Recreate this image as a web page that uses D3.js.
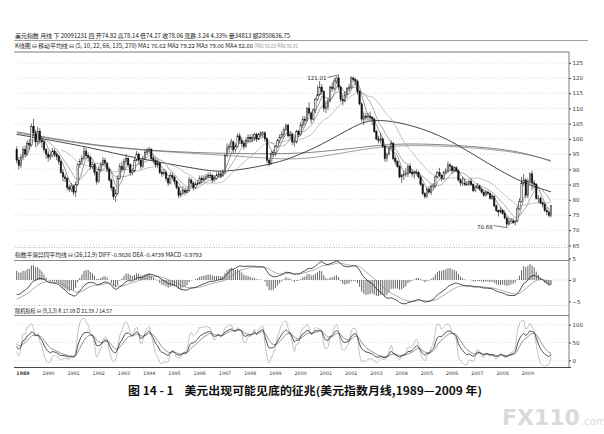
<!DOCTYPE html>
<html>
<head>
<meta charset="utf-8">
<style>
  body{
    margin: 0;
    background: #fff;
  }
  svg{
    display: block;
    font-family: 'Noto Sans CJK SC', 'DejaVu Sans', sans-serif;
  }
</style>
</head>
<body>
<svg id='svgVis'></svg>

<script src="https://cdnjs.cloudflare.com/ajax/libs/d3/7.8.5/d3.min.js"></script>
<script>

var width = 604, height = 434;

// monthly bars, index 0 = Oct 1988 ... last = Dec 2009
var firstOpen = 96.5;

var closes = [
  93.0, 91.2, 94.0,
  96.5, 95.0, 98.5, 98.0, 104.0, 102.0, 99.0, 102.5, 99.5, 99.0, 96.5, 95.0,
  94.0, 94.5, 96.0, 95.0, 94.2, 92.5, 89.0, 87.5, 87.0, 84.0, 83.5, 84.5,
  82.5, 85.0, 91.5, 92.5, 93.5, 96.0, 94.5, 94.0, 91.0, 91.5, 89.0, 86.0,
  90.0, 91.5, 93.0, 92.0, 90.0, 86.5, 84.0, 81.0, 82.0, 87.0, 91.0, 90.0,
  92.5, 93.5, 91.5, 89.0, 89.5, 93.0, 95.0, 93.0, 91.0, 93.5, 95.5, 96.0,
  96.5, 93.5, 93.0, 91.5, 92.0, 89.0, 88.5, 89.0, 87.0, 85.5, 88.0, 87.5,
  86.0, 84.0, 81.5, 82.0, 83.0, 82.5, 83.0, 86.5, 85.5, 84.0, 85.0, 85.5,
  87.0, 86.5, 87.0, 87.5, 88.0, 88.0, 86.5, 87.0, 88.0, 88.5, 88.0, 89.0,
  94.5, 97.0, 97.5, 99.0, 96.5, 97.5, 101.0, 99.5, 98.5, 97.5, 99.5, 100.5,
  100.0, 100.5, 101.5, 100.0, 101.5, 102.0, 102.0, 100.0, 93.0, 92.0, 95.0, 95.5,
  97.5, 99.5, 100.5, 101.5, 103.0, 104.5, 101.0, 101.5, 99.0, 99.0, 102.5, 101.5,
  104.5, 106.5, 106.0, 110.0, 108.5, 106.5, 109.5, 113.0, 114.5, 117.0, 115.5, 110.0,
  110.5, 112.5, 117.0, 116.5, 119.0, 120.0, 117.0, 113.0, 112.5, 114.5, 116.5, 117.0,
  120.0, 119.5, 119.0, 115.5, 111.5, 106.5, 107.5, 107.0, 107.5, 107.0, 106.5, 102.5,
  100.0, 99.5, 100.0, 97.5, 93.5, 95.0, 97.0, 98.5, 93.5, 92.5, 91.0, 87.5,
  88.0, 88.5, 88.5, 91.0, 89.0, 88.5, 89.0, 89.0, 87.5, 85.0, 82.0, 81.0,
  83.5, 82.5, 84.5, 84.5, 87.5, 89.0, 88.0, 87.0, 89.0, 89.5, 91.5, 91.0,
  89.5, 90.5, 89.5, 86.5, 85.5, 85.5, 85.0, 85.0, 86.0, 85.0, 83.0, 84.0,
  84.5, 83.5, 82.5, 81.5, 82.5, 82.0, 80.5, 81.0, 78.0, 76.5, 76.0, 76.5,
  75.5, 74.0, 72.0, 73.0, 73.0, 72.5, 73.0, 77.0, 79.5, 85.5, 86.5, 81.5,
  86.0, 88.5, 85.5, 85.0, 80.5, 80.5, 79.0, 78.5, 76.5, 76.0, 74.82, 78.06
];

var highs = [
  97.5, 94.0, 95.0,
  97.5, 97.8, 99.5, 100.0, 105.0, 106.6, 103.0, 104.0, 103.5, 100.5, 99.5, 97.0,
  96.0, 95.5, 97.0, 96.8, 95.8, 94.8, 93.0, 90.0, 88.5, 87.5, 85.0, 85.5,
  85.0, 86.0, 92.0, 93.5, 94.5, 97.4, 97.0, 95.5, 94.5, 92.5, 92.0, 89.5,
  91.0, 92.5, 94.0, 93.8, 92.5, 90.5, 87.0, 84.5, 83.5, 88.0, 92.0, 92.5,
  93.5, 95.0, 94.0, 92.0, 90.5, 94.0, 96.0, 95.5, 93.5, 94.5, 96.5, 97.0,
  97.4, 97.0, 94.5, 93.5, 93.0, 92.5, 90.0, 90.0, 89.5, 87.5, 89.0, 89.0,
  88.0, 86.5, 84.5, 83.0, 84.5, 84.0, 84.0, 87.5, 87.0, 86.0, 86.0, 86.5,
  88.0, 88.0, 88.0, 88.5, 89.0, 89.0, 88.5, 88.0, 89.0, 89.5, 89.5, 90.0,
  95.0, 98.5, 98.5, 100.0, 99.5, 98.5, 101.8, 102.0, 100.5, 99.5, 100.5, 101.5,
  101.5, 101.5, 102.0, 102.0, 102.0, 102.5, 102.5, 102.5, 100.5, 93.5, 96.0, 96.5,
  98.0, 100.0, 101.5, 102.5, 103.8, 105.0, 105.0, 102.5, 102.0, 100.5, 103.0, 103.0,
  105.5, 107.5, 107.5, 110.5, 112.0, 109.0, 110.0, 113.5, 117.5, 119.0, 118.0, 116.0,
  112.5, 113.5, 117.5, 118.5, 119.8, 120.5, 121.01, 117.5, 114.5, 115.5, 117.0, 118.0,
  120.6, 120.5, 120.0, 119.5, 116.0, 112.0, 109.0, 108.5, 108.5, 109.0, 107.5, 107.0,
  103.0, 101.0, 102.0, 100.5, 98.0, 95.5, 97.5, 99.5, 99.0, 94.5, 93.0, 91.5,
  88.5, 89.5, 90.5, 91.5, 92.0, 90.0, 89.5, 90.0, 89.5, 88.0, 85.5, 82.5,
  84.0, 84.5, 85.0, 85.5, 88.0, 89.5, 90.5, 88.5, 89.5, 90.5, 92.6, 92.0,
  91.5, 91.0, 91.0, 90.0, 87.0, 87.5, 87.0, 86.0, 86.5, 87.0, 85.5, 84.5,
  85.5, 85.0, 84.0, 83.0, 83.0, 83.0, 82.5, 82.0, 81.5, 78.5, 76.8, 77.5,
  77.0, 76.5, 74.5, 74.0, 74.0, 74.0, 73.5, 78.0, 80.5, 87.5, 88.5, 87.0,
  87.0, 89.0, 89.6, 86.5, 85.5, 81.5, 81.0, 79.5, 79.0, 77.5, 76.5, 78.14
];

var lows = [
  92.0, 90.0, 90.5,
  93.0, 94.0, 94.5, 96.5, 97.5, 101.0, 97.5, 98.0, 98.5, 97.0, 95.5, 93.5,
  92.5, 93.0, 94.0, 94.0, 93.0, 91.5, 88.5, 86.0, 85.8, 83.0, 82.5, 82.5,
  81.5, 81.0, 84.5, 90.5, 91.5, 93.0, 93.5, 92.5, 90.0, 90.0, 88.0, 85.0,
  85.5, 89.0, 91.0, 91.0, 89.0, 86.0, 83.0, 80.0, 79.3, 81.5, 86.5, 89.0,
  89.5, 91.5, 90.5, 88.0, 88.0, 89.0, 92.5, 92.0, 90.0, 90.5, 93.0, 94.5,
  95.0, 93.0, 92.0, 90.5, 90.5, 88.5, 87.5, 88.0, 86.0, 84.5, 85.0, 86.5,
  85.0, 83.5, 80.5, 80.8, 81.5, 81.5, 82.0, 82.5, 84.5, 83.0, 83.5, 84.5,
  85.0, 85.5, 86.0, 86.5, 87.0, 87.0, 85.5, 86.0, 86.5, 87.5, 87.0, 87.5,
  88.5, 94.0, 95.5, 96.5, 95.0, 95.5, 97.0, 98.5, 97.5, 96.5, 97.0, 99.0,
  99.0, 99.0, 99.5, 99.0, 99.5, 100.5, 100.5, 99.0, 92.0, 91.0, 91.5, 94.0,
  94.5, 97.0, 98.5, 100.0, 100.5, 102.5, 100.5, 100.0, 98.0, 97.5, 98.5, 100.5,
  101.0, 103.5, 104.5, 105.5, 107.5, 105.0, 106.0, 108.5, 112.5, 114.0, 114.5, 109.0,
  108.5, 109.5, 112.0, 115.5, 116.0, 118.0, 116.0, 112.0, 111.0, 112.0, 113.5, 115.5,
  116.5, 118.5, 117.5, 114.5, 111.0, 105.5, 104.5, 106.0, 106.0, 106.0, 104.5, 102.0,
  99.5, 98.5, 98.5, 97.0, 92.5, 92.5, 94.5, 96.5, 93.0, 91.5, 90.5, 87.0,
  85.5, 86.5, 87.5, 87.5, 88.5, 87.5, 87.0, 88.0, 87.0, 84.5, 81.5, 80.4,
  80.5, 82.0, 81.5, 83.5, 84.0, 87.0, 87.5, 86.0, 86.5, 88.5, 89.0, 89.5,
  88.5, 89.0, 89.0, 86.0, 84.5, 84.5, 84.5, 84.5, 84.5, 84.5, 82.5, 82.5,
  83.5, 83.0, 82.0, 81.0, 81.0, 81.5, 80.0, 80.0, 77.5, 76.0, 74.5, 75.5,
  75.0, 73.5, 70.68, 71.5, 72.0, 72.0, 71.5, 72.5, 76.5, 79.0, 84.5, 80.5,
  80.5, 85.5, 83.0, 83.5, 80.0, 79.0, 78.5, 77.5, 76.0, 75.0, 74.2, 74.27
];

// long averages: [months after Jan 1989, value]
var ma66Pts = [[-3,101.5],[27,97.9],[45,95.0],[61,92.8],[84,90.0],[95,88.8],[117,91.5],[127,93.5],
  [142,98.0],[158,104.5],[166,106.5],[180,105.5],[198,101.5],[214,95.0],[235,86.0],[251,82.6]];
var ma135Pts = [[-3,102.3],[27,98.5],[57,96.3],[89,95.2],[127,95.0],[142,95.8],[163,97.4],
  [179,98.6],[206,98.0],[235,96.3],[251,92.63]];
var ma270Pts = [[-3,102.0],[30,98.0],[60,96.0],[100,94.5],[127,93.0],[142,94.1],[163,96.8],
  [179,98.0],[206,97.6],[235,95.8],[251,92.91]];

var shortMA = [5, 10, 22];
var macdSeed = [94.5, 98.0, -4.7];   // ema12, ema26, dea before the first bar
var years = d3.range(1989, 2010);
var priceTicks = [125, 120, 115, 110, 105, 100, 95, 90, 85, 80, 75, 70, 65];
var macdTicks = [5, 0, -5];
var kdjTicks = [100, 50, 0];

var head1 = "美元指数 月线 下 20091231 四 开74.82 高78.14 低74.27 收78.06 涨跌 3.24 4.33% 量34813 额2850636.75";
var head2a = "K线图 ⊟ 移动平均线 ⊟ (5, 10, 22, 66, 135, 270) MA1 76.62 MA2 79.22 MA3 79.06 MA4 82.60";
var head2b = "MA5 92.63 MA6 92.91";
var headMacd = "指数平滑异同平均线 ⊟ (26,12,9) DIFF -0.9636 DEA -0.4739 MACD -0.9793";
var headKdj = "随机指标 ⊟ (9,3,3) K 17.09 D 21.59 J 14.57";
var caption = "图 14 - 1\u00a0\u00a0\u00a0\u00a0美元出现可能见底的征兆(美元指数月线,1989—2009 年)";

var svg = d3.select("#svgVis")
    .attr("width", width)
    .attr("height", height);

var left = 14, right = 569;

var x = d3.scaleLinear().domain([0, 251]).range([23, 551]);
var yP = d3.scaleLinear().domain([65, 125]).range([245.4, 62.8]);
var yM = d3.scaleLinear().domain([-5, 5]).range([301.5, 258.5]);
var yK = d3.scaleLinear().domain([0, 100]).range([360.3, 324.7]);

var bars = closes.map(function(c, i) {
  return {m: i - 3, o: i ? closes[i-1] : firstOpen, h: highs[i], l: lows[i], c: c};
});

// ---- frame lines
function hline(y, x1, x2, col, dash, w) {
  svg.append('line').attr('x1', x1).attr('x2', x2).attr('y1', y).attr('y2', y)
    .attr('stroke', col).attr('stroke-width', w || 0.7)
    .attr('stroke-dasharray', dash || null);
}

hline(40.5, left, 588, '#777');
hline(52, left, right, '#444');
hline(247.5, left, right, '#999', '1,1.5');
hline(260.5, left, right, '#555');
hline(305.5, left, right, '#aaa', '1,1.5');
hline(315.5, left, right, '#555');
hline(367.5, left, right + 2, '#333', null, 0.9);

svg.append('line').attr('x1', right).attr('x2', right).attr('y1', 52).attr('y2', 367.5)
  .attr('stroke', '#444').attr('stroke-width', 0.7);

// ---- grid
priceTicks.forEach(function(v) { hline(yP(v), left + 1, right, '#c4c4c4', '1,2', 0.6); });
hline(yM(0), left + 1, right, '#bbb', '1,2', 0.6);
kdjTicks.forEach(function(v) { hline(yK(v), left + 1, right, '#c4c4c4', '1,2', 0.6); });

// ---- right axes
function rightAxis(scale, ticks) {
  var g = svg.append('g')
    .attr('transform', 'translate(' + right + ',0)')
    .call(d3.axisRight(scale).tickValues(ticks).tickSize(2).tickPadding(1.5));
  g.select('.domain').remove();
  g.selectAll('line').attr('stroke', '#444');
  g.selectAll('text').attr('font-size', 5.5).attr('fill', '#333')
    .attr('font-family', "'DejaVu Sans', sans-serif");
}
rightAxis(yP, priceTicks);
rightAxis(yM, macdTicks);
rightAxis(yK, kdjTicks);

// ---- headers
function headText(str, xPos, y, len, col) {
  svg.append('text').attr('x', xPos).attr('y', y).text(str)
    .attr('font-size', 5.6).attr('fill', col || '#222')
    .attr('textLength', len).attr('lengthAdjust', 'spacingAndGlyphs');
}
headText(head1, 15, 37.5, 275, '#111');
headText(head2a, 15, 47.5, 238, '#222');
headText(head2b, 255, 47.5, 43, '#999');
headText(headMacd, 15, 257.3, 187, '#222');
headText(headKdj, 15, 312.8, 97, '#222');

// ---- long moving averages
var curveLine = d3.line()
  .x(function(d) { return x(d[0]); })
  .y(function(d) { return yP(d[1]); })
  .curve(d3.curveBasis);

svg.append('path').datum(ma270Pts).attr('d', curveLine)
  .attr('fill', 'none').attr('stroke', '#888').attr('stroke-width', 0.8);
svg.append('path').datum(ma135Pts).attr('d', curveLine)
  .attr('fill', 'none').attr('stroke', '#666').attr('stroke-width', 0.8);
svg.append('path').datum(ma66Pts).attr('d', curveLine)
  .attr('fill', 'none').attr('stroke', '#333').attr('stroke-width', 0.9);

// ---- short moving averages
var maColors = ['#555', '#777', '#999'];
shortMA.forEach(function(p, k) {
  var pts = [];
  for (var i = p - 1; i < closes.length; i++) {
    pts.push([bars[i].m, d3.mean(closes.slice(i - p + 1, i + 1))]);
  }
  svg.append('path').datum(pts)
    .attr('d', d3.line().x(function(d) { return x(d[0]); }).y(function(d) { return yP(d[1]); }))
    .attr('fill', 'none').attr('stroke', maColors[k]).attr('stroke-width', 0.6);
});

// ---- candles
var cw = 1.4;
var candle = svg.append('g').selectAll('g').data(bars).enter().append('g');

candle.append('line')
  .attr('x1', function(d) { return x(d.m); })
  .attr('x2', function(d) { return x(d.m); })
  .attr('y1', function(d) { return yP(d.h); })
  .attr('y2', function(d) { return yP(d.l); })
  .attr('stroke', '#111').attr('stroke-width', 0.6);

candle.append('rect')
  .attr('x', function(d) { return x(d.m) - cw / 2; })
  .attr('width', cw)
  .attr('y', function(d) { return yP(Math.max(d.o, d.c)); })
  .attr('height', function(d) { return Math.max(0.5, Math.abs(yP(d.o) - yP(d.c))); })
  .attr('fill', function(d) { return d.c >= d.o ? '#fff' : '#111'; })
  .attr('stroke', '#111').attr('stroke-width', 0.5);

// ---- high / low marks
var iMax = d3.maxIndex(highs), iMin = d3.minIndex(lows);
var pk = bars[iMax], tr = bars[iMin];

svg.append('line')
  .attr('x1', x(pk.m) - 11).attr('y1', yP(pk.h) + 2.5)
  .attr('x2', x(pk.m)).attr('y2', yP(pk.h))
  .attr('stroke', '#222').attr('stroke-width', 0.6);
svg.append('text').attr('x', x(pk.m) - 12).attr('y', yP(pk.h) + 4.6)
  .attr('text-anchor', 'end').attr('font-size', 5.5).attr('fill', '#222')
  .attr('font-family', "'DejaVu Sans', sans-serif")
  .text(d3.format('.2f')(pk.h));

svg.append('line')
  .attr('x1', x(tr.m) - 13).attr('y1', yP(tr.l) - 2.5)
  .attr('x2', x(tr.m)).attr('y2', yP(tr.l) - 0.5)
  .attr('stroke', '#222').attr('stroke-width', 0.6);
svg.append('text').attr('x', x(tr.m) - 14).attr('y', yP(tr.l) + 0.5)
  .attr('text-anchor', 'end').attr('font-size', 5.5).attr('fill', '#222')
  .attr('font-family', "'DejaVu Sans', sans-serif")
  .text(d3.format('.2f')(tr.l));

// ---- MACD (26,12,9)
var e12 = macdSeed[0], e26 = macdSeed[1], dea = macdSeed[2];
var macd = bars.map(function(d) {
  e12 = e12 * 11 / 13 + d.c * 2 / 13;
  e26 = e26 * 25 / 27 + d.c * 2 / 27;
  var diff = e12 - e26;
  dea = dea * 0.8 + diff * 0.2;
  return {m: d.m, diff: diff, dea: dea, bar: 2 * (diff - dea)};
});

svg.append('g').selectAll('line').data(macd).enter().append('line')
  .attr('x1', function(d) { return x(d.m); })
  .attr('x2', function(d) { return x(d.m); })
  .attr('y1', yM(0))
  .attr('y2', function(d) { return yM(d.bar); })
  .attr('stroke', '#222').attr('stroke-width', 0.7);

svg.append('path').datum(macd)
  .attr('d', d3.line().x(function(d) { return x(d.m); }).y(function(d) { return yM(d.dea); }))
  .attr('fill', 'none').attr('stroke', '#888').attr('stroke-width', 0.7);
svg.append('path').datum(macd)
  .attr('d', d3.line().x(function(d) { return x(d.m); }).y(function(d) { return yM(d.diff); }))
  .attr('fill', 'none').attr('stroke', '#222').attr('stroke-width', 0.8);

// ---- KDJ (9,3,3)
var kPrev = 50, dPrev = 50;
var kdj = bars.map(function(d, i) {
  var s = Math.max(0, i - 8);
  var hh = d3.max(highs.slice(s, i + 1)), ll = d3.min(lows.slice(s, i + 1));
  var rsv = hh > ll ? (d.c - ll) / (hh - ll) * 100 : 50;
  kPrev = kPrev * 2 / 3 + rsv / 3;
  dPrev = dPrev * 2 / 3 + kPrev / 3;
  return {m: d.m, k: kPrev, d: dPrev, j: 3 * kPrev - 2 * dPrev};
});

svg.append('clipPath').attr('id', 'kclip').append('rect')
  .attr('x', left).attr('y', 316).attr('width', right - left).attr('height', 51);

var kdjG = svg.append('g').attr('clip-path', 'url(#kclip)');
[['j', '#999', 0.6], ['d', '#666', 0.7], ['k', '#222', 0.8]].forEach(function(s) {
  kdjG.append('path').datum(kdj)
    .attr('d', d3.line().x(function(d) { return x(d.m); }).y(function(d) { return yK(d[s[0]]); })
      .curve(d3.curveMonotoneX))
    .attr('fill', 'none').attr('stroke', s[1]).attr('stroke-width', s[2]);
});

// ---- year axis
svg.append('g').selectAll('text').data(years).enter().append('text')
  .attr('x', function(d) { return x((d - 1989) * 12); })
  .attr('y', 375)
  .attr('text-anchor', 'middle')
  .attr('font-size', 4.8)
  .attr('font-weight', function(d) { return d === 1989 ? 'bold' : 'normal'; })
  .attr('font-family', "'DejaVu Sans', sans-serif")
  .attr('fill', '#333')
  .text(function(d) { return d; });

// ---- caption
svg.append('text').attr('x', 128).attr('y', 395)
  .attr('font-size', 11).attr('font-weight', 'bold').attr('fill', '#111')
  .attr('textLength', 354).attr('lengthAdjust', 'spacingAndGlyphs')
  .text(caption);

// ---- watermark (one text, two sizes)
var wm = svg.append('text').attr('x', 502).attr('y', 425)
  .attr('fill', '#dadada')
  .attr('font-family', "'DejaVu Sans', sans-serif");
wm.append('tspan').attr('font-size', 22).attr('font-weight', 'bold').text('FX110');
wm.append('tspan').attr('font-size', 10).attr('dx', 1).text('.com');

</script>
</body>
</html>
